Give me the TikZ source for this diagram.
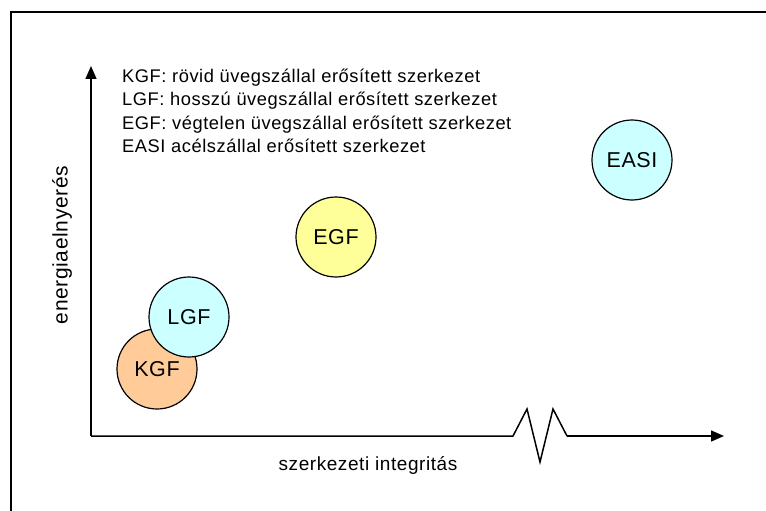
\documentclass[tikz,border=0pt]{standalone}
\usepackage{fontspec}
\setmainfont{Liberation Sans}[LetterSpace=3]
\usetikzlibrary{arrows.meta}

\begin{document}
\begin{tikzpicture}[x=1pt,y=-1pt,
  axis/.style={line width=1.5pt,-{Triangle[length=13pt,width=11pt]}},
  ball/.style={circle,draw,line width=1.2pt,minimum size=80pt,inner sep=0pt,font=\fontsize{21.5}{24}\selectfont},
  legend/.style={anchor=base west,inner sep=0pt,font=\fontsize{18.3}{22}\selectfont}]
\useasboundingbox (0,0) rectangle (766,511);
% Keret
\draw[line width=1.6pt] (11,511) -- (11,12) -- (766,12);
% Tengelyek
\coordinate (o) at (91,436);
\coordinate (ytip) at (91,66);
\coordinate (xtip) at (724,436);
\coordinate (b0) at (513,436);
\coordinate (b1) at (527,409);
\coordinate (b2) at (540,462);
\coordinate (b3) at (553,409);
\coordinate (b4) at (567,436);
\draw[axis] (o) -- (ytip);
\draw[line width=1.5pt] (o) -- (b0) -- (b1) -- (b2) -- (b3) -- (b4);
\draw[axis] (b4) -- (xtip);
\node[anchor=base,font=\fontsize{19}{23}\selectfont] (xlab) at (368,470) {szerkezeti integritás};
\node[font=\fontsize{21}{24}\selectfont,rotate=90] (ylab) at (62,245) {energiaelnyerés};
% Jelmagyarazat
\node[legend] (l1) at (122,83) {KGF: rövid üvegszállal erősített szerkezet};
\node[legend] (l2) at (122,106) {LGF: hosszú üvegszállal erősített szerkezet};
\node[legend] (l3) at (122,129) {EGF: végtelen üvegszállal erősített szerkezet};
\node[legend] (l4) at (122,152) {EASI acélszállal erősített szerkezet};
% Korok
\node[ball,fill={rgb,255:red,255;green,204;blue,153}] (kgf) at (157,369) {KGF};
\node[ball,fill={rgb,255:red,204;green,255;blue,255}] (lgf) at (189,317) {LGF};
\node[ball,fill={rgb,255:red,255;green,255;blue,153}] (egf) at (336,237) {EGF};
\node[ball,fill={rgb,255:red,204;green,255;blue,255}] (easi) at (632,160) {EASI};
\end{tikzpicture}
\end{document}
